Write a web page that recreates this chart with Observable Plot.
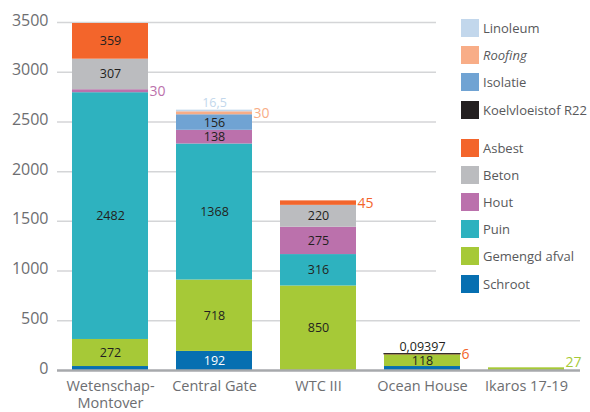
<!DOCTYPE html>
<html>
<head>
<meta charset="utf-8">
<script src="https://cdn.jsdelivr.net/npm/d3@7"></script>
<script src="https://cdn.jsdelivr.net/npm/@observablehq/plot@0.6"></script>
<style>
  html, body { margin: 0; padding: 0; background: #fff; }
  #wrap { position: relative; width: 590px; height: 412px; font-family: "Open Sans", sans-serif; overflow: hidden; }
  #legend { position: absolute; left: 436px; top: 0; width: 154px; height: 300px; background: #fff; padding-top: 19px; box-sizing: border-box; padding-left: 25px; }
  .item { display: flex; align-items: center; height: 18px; margin-bottom: 9.2px; font-size: 13px; color: #58595b; white-space: nowrap; }
  .item.gap { margin-bottom: 20px; }
  .sw { width: 18px; height: 18px; margin-right: 4px; flex: none; }
</style>
</head>
<body>
<div id="wrap"></div>
<script>
// Categories (x axis)
const categories = ["Wetenschap-Montover", "Central Gate", "WTC III", "Ocean House", "Ikaros 17-19"];
const categoryLabels = ["Wetenschap-\nMontover", "Central Gate", "WTC III", "Ocean House", "Ikaros 17-19"];

// Series in stacking order (bottom to top)
const series = ["Schroot", "Gemengd afval", "Puin", "Hout", "Beton", "Asbest", "Koelvloeistof R22", "Isolatie", "Roofing", "Linoleum"];
const seriesColors = ["#066fb1", "#a6c937", "#2eb2bf", "#bb71ac", "#bbbcbf", "#f3652b", "#231f20", "#70a3d3", "#f8ad87", "#c2d7ec"];

// Values per series, one per category
const schroot      = [40, 192, 0, 40, 0];
const gemengdAfval = [272, 718, 850, 118, 27];
const puin         = [2482, 1368, 316, 0, 0];
const hout         = [30, 138, 275, 0, 0];
const beton        = [307, 0, 220, 0, 0];
const asbest       = [359, 0, 45, 6, 0];
const koelvloeistof = [0, 0, 0, 0.09397, 0];
const isolatie     = [0, 156, 0, 0, 0];
const roofing      = [0, 30, 0, 0, 0];
const linoleum     = [0, 16.5, 0, 0, 0];

const yTicks = [0, 500, 1000, 1500, 2000, 2500, 3000, 3500];

// Legend order (top to bottom)
const legendTop = ["Linoleum", "Roofing", "Isolatie", "Koelvloeistof R22"];
const legendBottom = ["Asbest", "Beton", "Hout", "Puin", "Gemengd afval", "Schroot"];

const valuesBySeries = [schroot, gemengdAfval, puin, hout, beton, asbest, koelvloeistof, isolatie, roofing, linoleum];

// Build stacked rows
const rows = [];
categories.forEach((cat, ci) => {
  let acc = 0;
  const segs = [];
  series.forEach((s, si) => {
    const v = valuesBySeries[si][ci];
    if (v > 0) {
      segs.push({cat, series: s, value: v, y1: acc, y2: acc + v, color: seriesColors[si]});
      acc += v;
    }
  });
  segs.forEach((d, i) => { d.top = i === segs.length - 1; d.total = acc; rows.push(d); });
});

const fmt = v => String(v).replace(".", ",");

const inside = rows.filter(d => d.value >= 100).map(d => ({...d, ym: (d.y1 + d.y2) / 2}));
const above = rows.filter(d => d.value < 20 && d.top);
const right = rows.filter(d => d.value < 100 && !(d.value < 20 && d.top) && d.series !== "Schroot");
const rightMid = right.filter(d => d.y1 > 0).map(d => ({...d, ym: (d.y1 + d.y2) / 2}));
const rightBase = right.filter(d => d.y1 === 0);

const chart = Plot.plot({
  width: 590,
  height: 412,
  marginTop: 22,
  marginBottom: 42,
  marginLeft: 57,
  marginRight: 10,
  style: {fontFamily: "'Open Sans', sans-serif", fontSize: "15px", color: "#6d6e71", background: "#fff"},
  x: {domain: categories, paddingInner: 0.265, paddingOuter: 0.1325, label: null},
  y: {domain: [0, 3500], label: null},
  color: {domain: series, range: seriesColors},
  marks: [
    Plot.ruleY(yTicks.filter(d => d > 0), {stroke: "#d4d5d7", strokeWidth: 1.5}),
    Plot.axisY(yTicks, {tickSize: 0, tickPadding: 9, fontSize: 16, dy: -2, label: null, tickFormat: d => String(d)}),
    Plot.axisX({tickSize: 0, tickPadding: 8, fontSize: 14.5, lineHeight: 1.2, label: null,
      tickFormat: d => categoryLabels[categories.indexOf(d)]}),
    Plot.barY(rows, {x: "cat", y1: "y1", y2: "y2", fill: "series"}),
    Plot.barY(rows.filter(d => d.series === "Koelvloeistof R22"), {x: "cat", y1: "y1", y2: "y2", stroke: "#231f20", strokeWidth: 1.2}),
    Plot.ruleY([0], {stroke: "#a7a9ac", strokeWidth: 2.5}),
    Plot.text(inside, {x: "cat", y: "ym", text: d => fmt(d.value), fill: d => d.series === "Schroot" ? "#ffffff" : "#231f20", fontSize: 12.5}),
    Plot.text(above, {x: "cat", y: "y2", text: d => fmt(d.value), fill: "color", fontSize: 12.5, lineAnchor: "bottom", dy: -3}),
    Plot.text(rightMid, {x: "cat", y: "ym", text: d => fmt(d.value), fill: "color", fontSize: 14, textAnchor: "start", dx: 39}),
    Plot.text(rightBase, {x: "cat", y: "y2", text: d => fmt(d.value), fill: "color", fontSize: 14, textAnchor: "start", lineAnchor: "bottom", dx: 39, dy: -1})
  ]
});

const wrap = document.getElementById("wrap");
wrap.appendChild(chart);

const legend = document.createElement("div");
legend.id = "legend";
const colorOf = s => seriesColors[series.indexOf(s)];
[...legendTop, ...legendBottom].forEach((s, i) => {
  const it = document.createElement("div");
  it.className = "item" + (i === legendTop.length - 1 ? " gap" : "");
  const sw = document.createElement("div");
  sw.className = "sw";
  sw.style.background = colorOf(s);
  const lb = document.createElement("span");
  lb.textContent = s;
  if (s === "Roofing") lb.style.fontStyle = "italic";
  it.appendChild(sw);
  it.appendChild(lb);
  legend.appendChild(it);
});
wrap.appendChild(legend);
</script>
</body>
</html>
